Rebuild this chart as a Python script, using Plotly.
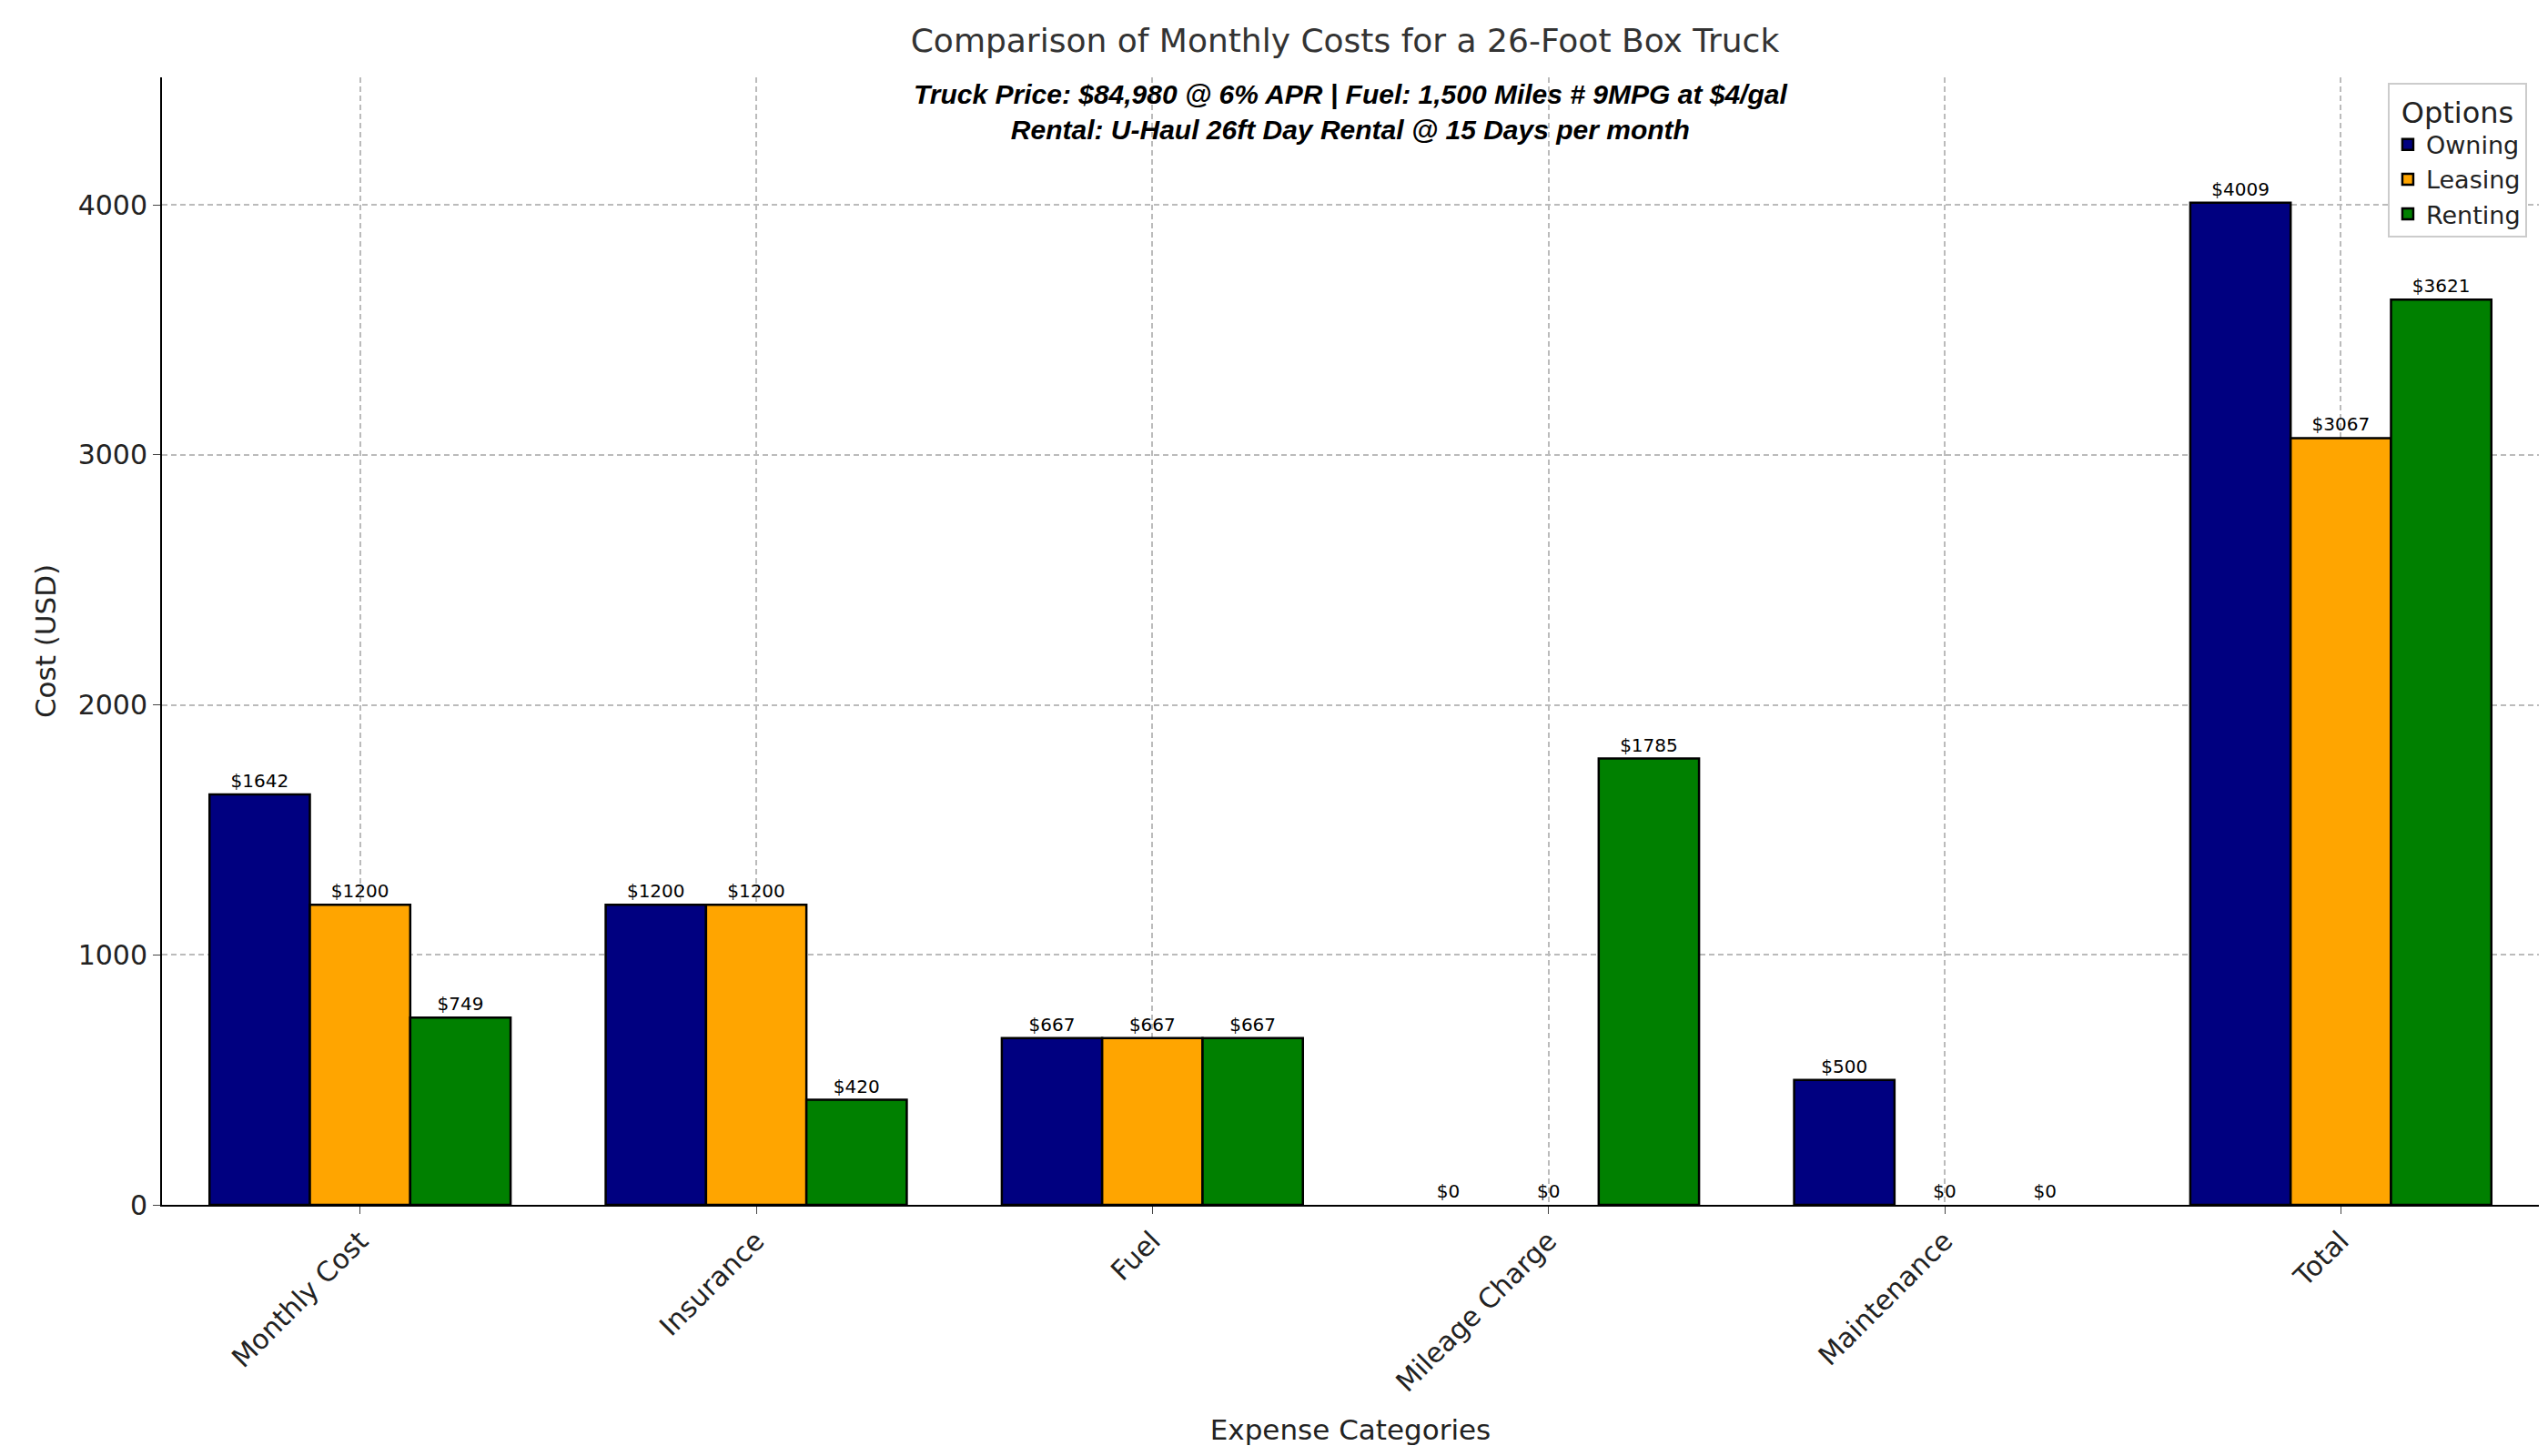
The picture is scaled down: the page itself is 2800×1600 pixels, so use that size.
import plotly.graph_objects as go

categories = ['Monthly Cost', 'Insurance', 'Fuel', 'Mileage Charge', 'Maintenance', 'Total']
owning = [1642, 1200, 667, 0, 500, 4009]
leasing = [1200, 1200, 667, 0, 0, 3067]
renting = [749, 420, 667, 1785, 0, 3621]

series = [('Owning', owning, 'navy'), ('Leasing', leasing, 'orange'), ('Renting', renting, 'green')]

fig = go.Figure()
for name, vals, color in series:
    fig.add_trace(go.Bar(
        name=name, x=categories, y=vals,
        marker=dict(color=color, line=dict(color='black', width=[2.5 if v else 0 for v in vals])),
        text=[f'${v}' for v in vals], textposition='outside',
        textfont=dict(size=20, color='black'), cliponaxis=False,
        ))

grid = dict(showgrid=True, gridcolor='#bbbbbb', griddash='6px,4px', gridwidth=1.5)

fig.update_layout(
    width=2800, height=1600,
    barmode='group', bargap=0.24, bargroupgap=0,
    plot_bgcolor='white', paper_bgcolor='white',
    font=dict(family='DejaVu Sans', size=30, color='#222'),
    margin=dict(l=170, r=18, t=77, b=284),
    title=dict(text='Comparison of Monthly Costs for a 26-Foot Box Truck', x=0.525, xanchor='center',
               y=0.985, yanchor='top', font=dict(size=36, color='#333')),
    xaxis=dict(title=dict(text='Expense Categories', standoff=25, font=dict(size=31)), tickangle=-45,
               showline=True, linecolor='black', linewidth=2, ticks='outside', ticklen=8, **grid),
    yaxis=dict(title=dict(text='Cost (USD)', font=dict(size=31)), range=[0, 4510], dtick=1000,
               showline=True, linecolor='black', linewidth=2, ticks='outside', ticklen=8,
               zeroline=False, **grid),
    legend=dict(title=dict(text='Options', side='top center'), x=0.995, y=0.995, xanchor='right', yanchor='top',
                bordercolor='#cccccc', borderwidth=2, bgcolor='white', font=dict(size=27)),
    showlegend=True,
    )

fig.add_annotation(
    text='<b><i>Truck Price: $84,980 @ 6% APR | Fuel: 1,500 Miles # 9MPG at $4/gal<br>'
         'Rental: U-Haul 26ft Day Rental @ 15 Days per month</i></b>',
    xref='paper', yref='paper', x=0.5, y=1.0, xanchor='center', yanchor='top',
    showarrow=False, font=dict(family='Liberation Sans', size=30, color='black'))

fig.write_html('out.html')
